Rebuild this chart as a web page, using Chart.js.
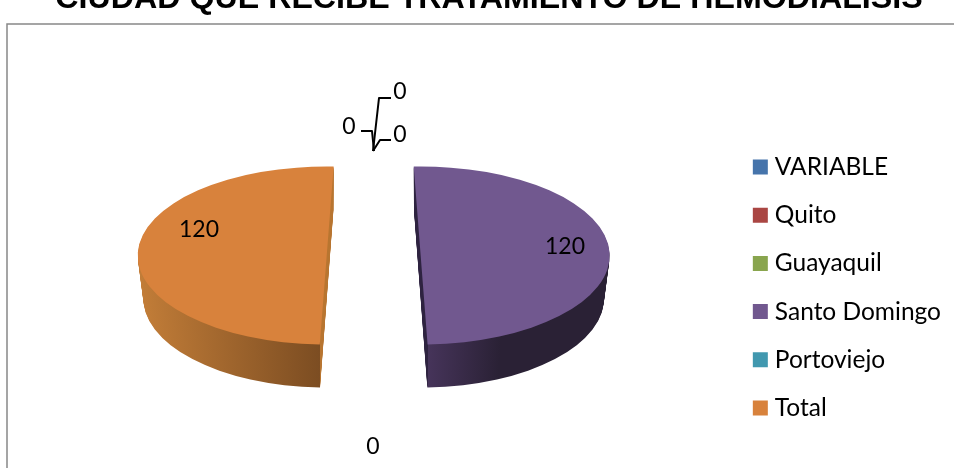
<!DOCTYPE html>
<html>
<head>
<meta charset="utf-8">
<title>Ciudad que recibe tratamiento de hemodialisis</title>
<script src="https://cdn.jsdelivr.net/npm/chart.js@4"></script>
<style>
  html, body { margin: 0; padding: 0; background: #fff; overflow: hidden; }
  #wrap { position: relative; width: 954px; height: 468px; }
</style>
</head>
<body>
<div id="wrap"><canvas id="pieChart"></canvas></div>
<script>
const titleText = "CIUDAD QUE RECIBE TRATAMIENTO DE HEMODIALISIS";
const cities = ["VARIABLE", "Quito", "Guayaquil", "Santo Domingo", "Portoviejo", "Total"];
const patients = [0, 0, 0, 120, 0, 120];
const sliceColors = ["#4674AB", "#AA4643", "#89A54E", "#71588F", "#4198AF", "#D8823C"];

// side wall colours, left end -> right end, then the cut face
const wallColors = {
  3: { cut: "#2E2340", from: "#46345A", to: "#2A2135" },
  5: { cut: "#B87530", from: "#C27D38", to: "#7C4D22" }
};

// where Excel left the data labels, per slice
const labelSpots = [
  { i: 0, x: 349, y: 127 },
  { i: 1, x: 400, y: 92 },
  { i: 2, x: 400, y: 135 },
  { i: 3, x: 565, y: 247 },
  { i: 4, x: 373, y: 447 },
  { i: 5, x: 199, y: 230 }
];
const leaderLines = [
  [[361, 131], [372, 131], [374, 151]],
  [[391, 98], [379, 98], [373, 151]],
  [[391, 140], [380, 140], [373, 151]]
];

const flatten = 0.471;
const depth = 43;
const wallTaper = 0.03; // bottom rim is a bit narrower than the top
const explode = 47;
const plotShiftX = -7;
const plotShiftY = -32;
const edgeLean = 7; // px the cut edge leans from vertical
const perspectiveTwist = 4.2 * Math.PI / 180; // the far slice's cut edge leans the other way

function tilt(chart) {
  const ctx = chart.ctx;
  const y = chart.getDatasetMeta(0).data[3].y;
  ctx.translate(0, y);
  ctx.scale(1, flatten);
  ctx.translate(0, -y);
}

const pie3d = {
  id: "pie3d",
  afterDatasetsUpdate(chart) {
    // pull the slices apart and move the pie clear of the legend
    chart.getDatasetMeta(0).data.forEach((arc, i) => {
      const mid = (arc.startAngle + arc.endAngle) / 2;
      arc.x += plotShiftX + Math.cos(mid) * explode;
      arc.y += plotShiftY;
      if (i === 5) {
        arc.startAngle += perspectiveTwist;
        arc.endAngle += perspectiveTwist;
      }
    });
  },
  beforeDraw(chart) {
    const ctx = chart.ctx;
    ctx.save();
    ctx.strokeStyle = "#888";
    ctx.lineWidth = 1.5;
    ctx.beginPath();
    ctx.moveTo(7, 480);
    ctx.lineTo(7, 24);
    ctx.lineTo(960, 24);
    ctx.stroke();
    ctx.restore();
  },
  beforeDatasetDraw(chart) {
    const ctx = chart.ctx;
    const arcs = chart.getDatasetMeta(0).data;
    // stack darker copies of each slice below the top face
    Object.keys(wallColors).forEach((key) => {
      const arc = arcs[key];
      const wall = wallColors[key];
      const saved = arc.options;
      const r = arc.outerRadius;
      const isLeft = Math.cos((arc.startAngle + arc.endAngle) / 2) < 0;
      const x0 = isLeft ? arc.x - r : arc.x - edgeLean - 2;
      const x1 = isLeft ? arc.x + edgeLean + 2 : arc.x + r;
      const span = x1 - x0;
      const edge = (2 * edgeLean + 2) / span;
      const g = ctx.createLinearGradient(x0, 0, x1, 0);
      if (isLeft) {
        g.addColorStop(0, wall.from);
        g.addColorStop(1 - edge, wall.to);
        g.addColorStop(1 - edge + 0.001, wall.cut);
        g.addColorStop(1, wall.cut);
      } else {
        g.addColorStop(0, wall.cut);
        g.addColorStop(edge, wall.cut);
        g.addColorStop(edge + 0.001, wall.from);
        g.addColorStop(0.45, wall.to);
        g.addColorStop(1, wall.to);
      }
      arc.options = Object.assign({}, saved, { backgroundColor: g });
      for (let d = depth; d >= 1; d--) {
        ctx.save();
        ctx.translate(arc.x, d);
        ctx.scale(1 - wallTaper * d / depth, 1);
        ctx.translate(-arc.x, 0);
        tilt(chart);
        arc.draw(ctx);
        ctx.restore();
      }
      arc.options = saved;
    });
    ctx.save();
    tilt(chart);
  },
  afterDatasetDraw(chart) {
    chart.ctx.restore();
  },
  afterDraw(chart) {
    const ctx = chart.ctx;
    ctx.save();
    ctx.strokeStyle = "#000";
    ctx.lineWidth = 2;
    ctx.lineJoin = "round";
    leaderLines.forEach((pts) => {
      ctx.beginPath();
      pts.forEach((p, n) => (n ? ctx.lineTo(p[0], p[1]) : ctx.moveTo(p[0], p[1])));
      ctx.stroke();
    });
    ctx.fillStyle = "#000";
    ctx.font = "23px Lato";
    ctx.textAlign = "center";
    ctx.textBaseline = "middle";
    labelSpots.forEach((s) => ctx.fillText(String(patients[s.i]), s.x, s.y));
    ctx.restore();
  }
};

new Chart(document.getElementById("pieChart"), {
  type: "pie",
  data: {
    labels: cities,
    datasets: [{
      data: patients,
      backgroundColor: sliceColors,
      borderWidth: 0,
      radius: 189,
      rotation: -2.1,
      clip: false
    }]
  },
  options: {
    responsive: true,
    maintainAspectRatio: false,
    animation: false,
    layout: { padding: { left: 27, right: 3, top: 0, bottom: 0 } },
    plugins: {
      title: {
        display: true,
        text: titleText,
        color: "#000",
        font: { family: "Liberation Sans", size: 32.2, weight: "bold" },
        padding: { top: -20, bottom: 88.4 }
      },
      legend: {
        position: "right",
        fullSize: false,
        labels: {
          color: "#000",
          font: { family: "Lato", size: 24.5 },
          usePointStyle: true,
          pointStyle: "rect",
          boxWidth: 4.5,
          boxHeight: 15,
          padding: 23.7
        }
      },
      tooltip: { enabled: false }
    }
  },
  plugins: [pie3d]
});
</script>
</body>
</html>
